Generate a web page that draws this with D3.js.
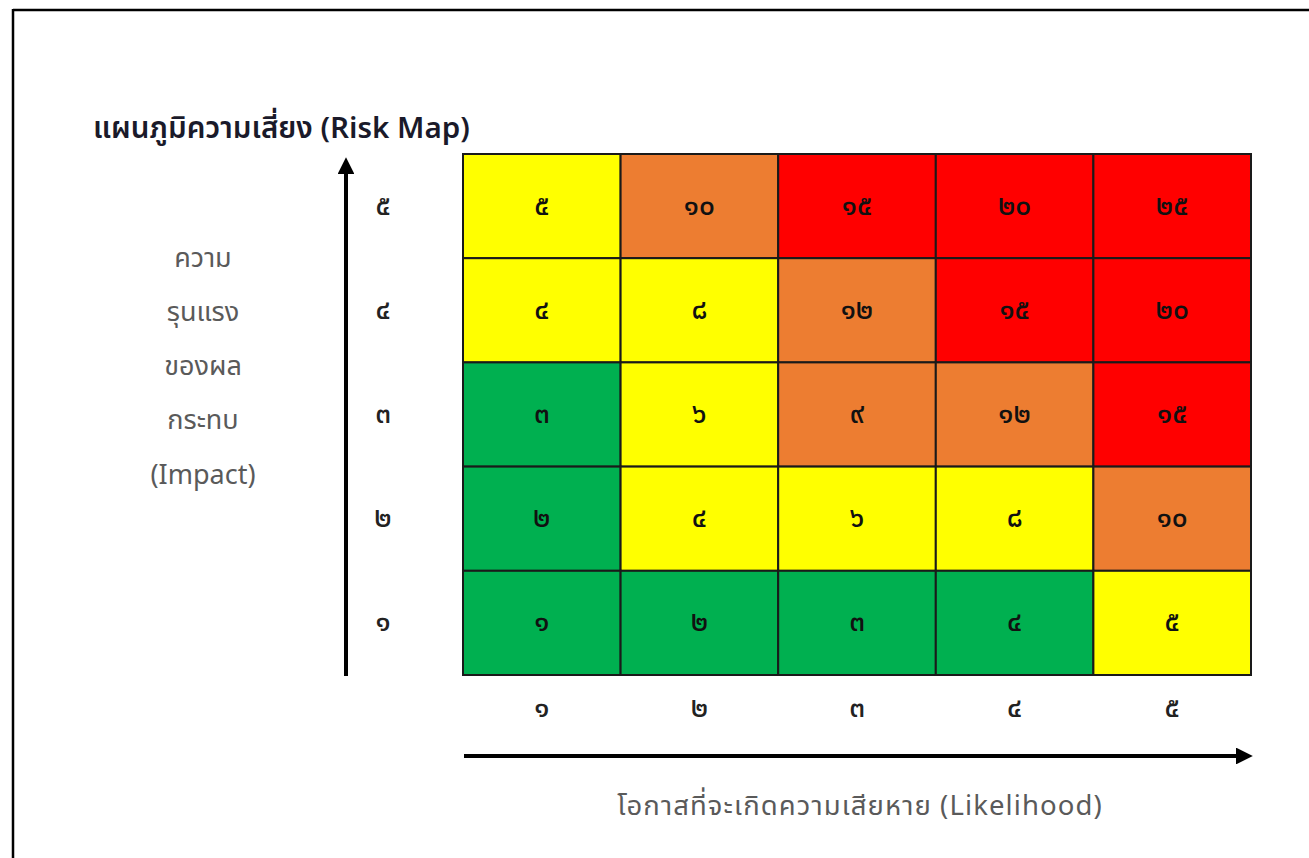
<!DOCTYPE html>
<html><head><meta charset="utf-8">
<script src="https://cdn.jsdelivr.net/npm/d3@7"></script>
<style>
html,body{margin:0;padding:0;background:#fff;}
svg{display:block;}
text{font-family:"Noto Sans Thai","Noto Sans Thai UI","Loma","Garuda","Noto Sans",sans-serif;}
</style></head>
<body>
<svg id="c" width="1309" height="858"></svg>
<script>
const likelihood = ["๑","๒","๓","๔","๕"];
const impact = ["๕","๔","๓","๒","๑"]; // top to bottom
const cellValues = [
  ["๕","๑๐","๑๕","๒๐","๒๕"],
  ["๔","๘","๑๒","๑๕","๒๐"],
  ["๓","๖","๙","๑๒","๑๕"],
  ["๒","๔","๖","๘","๑๐"],
  ["๑","๒","๓","๔","๕"]
];
const cellLevels = [
  ["Y","O","R","R","R"],
  ["Y","Y","O","R","R"],
  ["G","Y","O","O","R"],
  ["G","Y","Y","Y","O"],
  ["G","G","G","G","Y"]
];
const levelColors = {G:"#00B050", Y:"#FFFF00", O:"#ED7D31", R:"#FF0000"};
const title = "แผนภูมิความเสี่ยง (Risk Map)";
const yLabelLines = ["ความ","รุนแรง","ของผล","กระทบ","(Impact)"];
const xLabel = "โอกาสที่จะเกิดความเสียหาย (Likelihood)";

const svg = d3.select("#c");
// frame
svg.append("line").attr("x1",13).attr("x2",1309).attr("y1",10).attr("y2",10).attr("stroke","#000").attr("stroke-width",2.5);
svg.append("line").attr("x1",13).attr("x2",13).attr("y1",9).attr("y2",858).attr("stroke","#000").attr("stroke-width",2.5);

const x = d3.scaleBand().domain(likelihood).range([463,1251]).padding(0);
const y = d3.scaleBand().domain(impact).range([154,675]).padding(0);

const cells = [];
impact.forEach((im,r)=>likelihood.forEach((lk,c)=>cells.push({im,lk,v:cellValues[r][c],lv:cellLevels[r][c]})));

const g = svg.append("g");
g.selectAll("rect").data(cells).join("rect")
  .attr("x",d=>x(d.lk)).attr("y",d=>y(d.im))
  .attr("width",x.bandwidth()).attr("height",y.bandwidth())
  .attr("fill",d=>levelColors[d.lv]).attr("stroke","#1a1a1a").attr("stroke-width",2);
g.selectAll("text").data(cells).join("text")
  .attr("x",d=>x(d.lk)+x.bandwidth()/2).attr("y",d=>y(d.im)+y.bandwidth()/2)
  .attr("text-anchor","middle").attr("dominant-baseline","central")
  .attr("font-size",28).attr("font-weight",500).attr("fill","#111").text(d=>d.v);

// tick labels
svg.append("g").selectAll("text").data(impact).join("text")
  .attr("x",383).attr("y",d=>y(d)+y.bandwidth()/2)
  .attr("text-anchor","middle").attr("dominant-baseline","central")
  .attr("font-size",28).attr("font-weight",500).attr("fill","#222").text(d=>d);
svg.append("g").selectAll("text").data(likelihood).join("text")
  .attr("x",d=>x(d)+x.bandwidth()/2).attr("y",708)
  .attr("text-anchor","middle").attr("dominant-baseline","central")
  .attr("font-size",28).attr("font-weight",500).attr("fill","#222").text(d=>d);

// arrows
const defs = svg.append("defs");
defs.append("marker").attr("id","ah").attr("viewBox","0 0 10 10").attr("refX",0).attr("refY",5)
  .attr("markerWidth",4.2).attr("markerHeight",4.2).attr("markerUnits","strokeWidth").attr("orient","auto")
  .append("path").attr("d","M0,0 L10,5 L0,10 Z").attr("fill","#000");
svg.append("line").attr("x1",346).attr("x2",346).attr("y1",676).attr("y2",174)
  .attr("stroke","#000").attr("stroke-width",4).attr("marker-end","url(#ah)");
svg.append("line").attr("x1",464).attr("x2",1236).attr("y1",756).attr("y2",756)
  .attr("stroke","#000").attr("stroke-width",4).attr("marker-end","url(#ah)");

// title
svg.append("text").attr("x",93).attr("y",138).attr("font-size",29.5).attr("font-weight","600")
  .attr("fill","#1a1a2a").text(title);
// y label
svg.append("g").selectAll("text").data(yLabelLines).join("text")
  .attr("x",203).attr("y",(d,i)=>258+i*54.3)
  .attr("text-anchor","middle").attr("dominant-baseline","central")
  .attr("font-size",27).attr("fill","#5a5a5a").text(d=>d);
// x label
svg.append("text").attr("x",860).attr("y",806).attr("text-anchor","middle").attr("dominant-baseline","central")
  .attr("font-size",27.5).attr("letter-spacing",1.1).attr("fill","#5a5a5a").text(xLabel);
</script>
</body></html>
